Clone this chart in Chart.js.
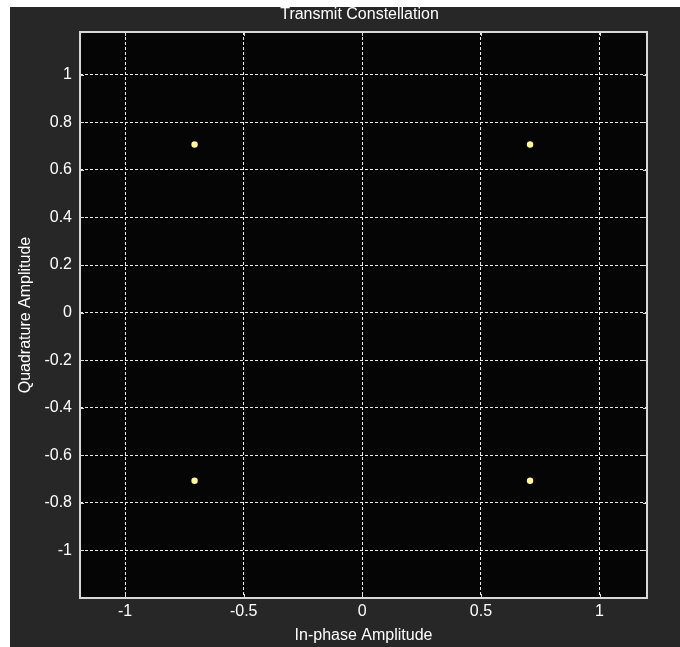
<!DOCTYPE html>
<html>
<head>
<meta charset="utf-8">
<script src="https://cdn.jsdelivr.net/npm/chart.js@4/dist/chart.umd.min.js"></script>
<style>
  html, body { margin: 0; padding: 0; background: #ffffff; }
  #wrap { width: 680px; height: 647px; }
</style>
</head>
<body>
<div id="wrap"><canvas id="chart"></canvas></div>
<script>
// constellation symbols (QPSK)
var inPhase = [-0.7071, 0.7071, -0.7071, 0.7071];
var quadrature = [0.7071, 0.7071, -0.7071, -0.7071];

// tick labels
var xTicks = [-1, -0.5, 0, 0.5, 1];
var yTicks = [-1, -0.8, -0.6, -0.4, -0.2, 0, 0.2, 0.4, 0.6, 0.8, 1];

var chartTitle = 'Transmit Constellation';

var points = inPhase.map(function (x, i) {
    return { x: x, y: quadrature[i] };
});

var family = '"Liberation Sans", Arial, sans-serif';

// window frame, black plot area, title centred over the plot and inward tick marks
var scopeFrame = {
    id: 'scopeFrame',
    beforeDraw: function (chart) {
        var ctx = chart.ctx, a = chart.chartArea;
        ctx.save();
        ctx.fillStyle = '#ffffff';
        ctx.fillRect(0, 0, chart.width, chart.height);
        ctx.fillStyle = '#272727';
        ctx.fillRect(10, 7, chart.width - 10, chart.height - 7);
        ctx.fillStyle = '#050505';
        ctx.fillRect(a.left, a.top, a.right - a.left, a.bottom - a.top);
        ctx.restore();
    },
    afterDraw: function (chart) {
        var ctx = chart.ctx, a = chart.chartArea;
        var xs = chart.scales.x, ys = chart.scales.y;
        ctx.save();
        ctx.strokeStyle = '#d8d8d8';
        ctx.lineWidth = 1;
        ctx.beginPath();
        xs.ticks.forEach(function (t) {
            var px = Math.round(xs.getPixelForValue(t.value)) + 0.5;
            ctx.moveTo(px, a.bottom); ctx.lineTo(px, a.bottom - 4);
            ctx.moveTo(px, a.top); ctx.lineTo(px, a.top + 4);
        });
        ys.ticks.forEach(function (t) {
            var py = Math.round(ys.getPixelForValue(t.value)) + 0.5;
            ctx.moveTo(a.left, py); ctx.lineTo(a.left + 4, py);
            ctx.moveTo(a.right, py); ctx.lineTo(a.right - 4, py);
        });
        ctx.stroke();
        ctx.lineWidth = 2;
        ctx.strokeRect(a.left, a.top, a.right - a.left, a.bottom - a.top);

        ctx.fillStyle = '#ffffff';
        ctx.font = '16px ' + family;
        ctx.textAlign = 'center';
        ctx.textBaseline = 'middle';
        ctx.fillText(chartTitle, (a.left + a.right) / 2 - 4, 15);
        ctx.restore();
    }
};

new Chart(document.getElementById('chart'), {
    type: 'scatter',
    data: {
        datasets: [{
            data: points,
            pointRadius: 3.2,
            pointBorderWidth: 0,
            backgroundColor: '#fdf8a0',
            borderColor: '#fdf8a0'
        }]
    },
    options: {
        responsive: true,
        maintainAspectRatio: false,
        animation: false,
        layout: { padding: { left: 0, right: 33, top: 32, bottom: 0 } },
        plugins: {
            legend: { display: false },
            tooltip: { enabled: false },
            title: { display: false }
        },
        scales: {
            x: {
                type: 'linear',
                min: -1.19,
                max: 1.2,
                afterFit: function (s) { s.height = 49; },
                afterBuildTicks: function (s) {
                    s.ticks = xTicks.map(function (v) { return { value: v }; });
                },
                ticks: {
                    color: '#ffffff',
                    font: { family: family, size: 16 },
                    padding: 4,
                    maxRotation: 0,
                    callback: function (v) { return String(v); }
                },
                grid: {
                    color: '#ececec',
                    lineWidth: 1,
                    drawTicks: false
                },
                border: { display: false, dash: [3, 2] },
                title: {
                    display: true,
                    text: 'In-phase Amplitude',
                    color: '#ffffff',
                    font: { family: family, size: 16 },
                    padding: { top: 0, bottom: 2 }
                }
            },
            y: {
                type: 'linear',
                min: -1.2,
                max: 1.18,
                afterFit: function (s) { s.width = 80; },
                afterBuildTicks: function (s) {
                    s.ticks = yTicks.map(function (v) { return { value: v }; });
                },
                ticks: {
                    color: '#ffffff',
                    font: { family: family, size: 16 },
                    padding: 8,
                    callback: function (v) { return String(v); }
                },
                grid: {
                    color: '#ececec',
                    lineWidth: 1,
                    drawTicks: false
                },
                border: { display: false, dash: [3, 2] },
                title: {
                    display: true,
                    text: 'Quadrature Amplitude',
                    color: '#ffffff',
                    font: { family: family, size: 16 },
                    padding: { top: 16, bottom: 0 }
                }
            }
        }
    },
    plugins: [scopeFrame]
});
</script>
</body>
</html>
